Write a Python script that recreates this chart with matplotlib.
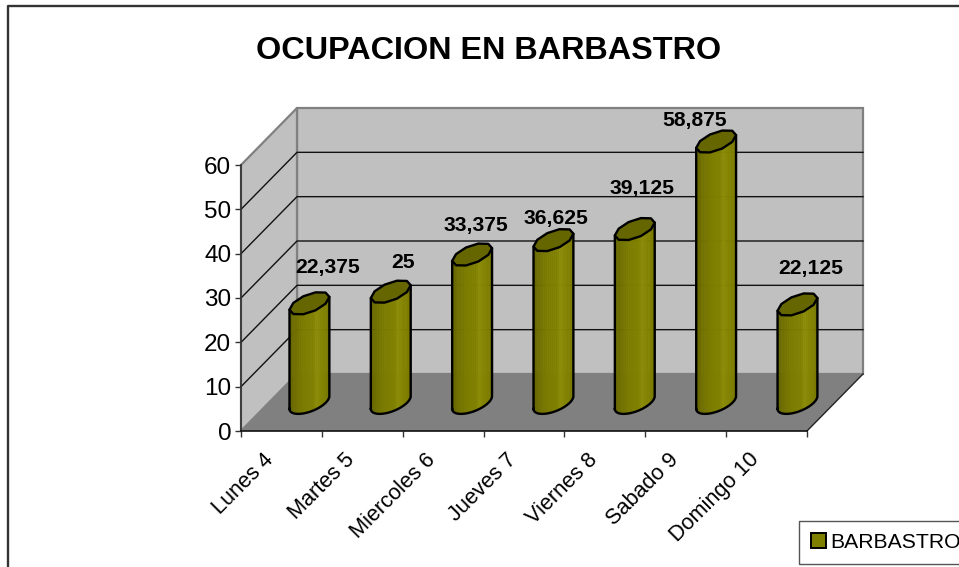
import numpy as np
import matplotlib
matplotlib.use("Agg")
import matplotlib.pyplot as plt
from matplotlib.patches import Patch
from matplotlib.transforms import ScaledTranslation

categories = ["Lunes 4", "Martes 5", "Miercoles 6", "Jueves 7", "Viernes 8", "Sabado 9", "Domingo 10"]
values = [22.375, 25, 33.375, 36.625, 39.125, 58.875, 22.125]
value_labels = ["22,375", "25", "33,375", "36,625", "39,125", "58,875", "22,125"]
y_ticks = [0, 10, 20, 30, 40, 50, 60]
title = "OCUPACION EN BARBASTRO"
series_name = "BARBASTRO"

W, H = 959, 567
plt.rcParams["font.family"] = ["Liberation Sans", "DejaVu Sans"]

fig = plt.figure(figsize=(W / 100, H / 100), dpi=100)
# front plane of the 3d box, in pixels
left, right, top, bottom = 241, 807, 165, 431
ax = fig.add_axes([left / W, 1 - bottom / H, (right - left) / W, (bottom - top) / H])
ax.set_xlim(0, 7)
ax.set_ylim(0, 60)
ax.patch.set_visible(False)

# depth of the box, as data units
cat_px = (right - left) / 7
DX = 56 / cat_px
DY = 57 / ((bottom - top) / 60)


def proj(cat, val, d):
    return np.asarray(cat) + np.asarray(d) * DX, np.asarray(val) + np.asarray(d) * DY


# walls and floor
wx, wy = proj([0, 7, 7, 0], [0, 0, 60, 60], 1)
ax.fill(wx, wy, fc="#c0c0c0", ec="#808080", lw=1.6, clip_on=False, zorder=1)
sx, sy = proj([0, 0, 0, 0], [0, 0, 60, 60], [0, 1, 1, 0])
ax.fill(sx, sy, fc="#c0c0c0", ec="#808080", lw=1.6, clip_on=False, zorder=1)
fx, fy = proj([0, 7, 7, 0], [0, 0, 0, 0], [0, 0, 1, 1])
ax.fill(fx, fy, fc="#808080", ec="none", clip_on=False, zorder=2)
ex, ey = proj([7, 7], [0, 0], [0, 1])
ax.plot(ex, ey, color="#222222", lw=1, clip_on=False, zorder=2)

# gridlines round the walls
for v in y_ticks[1:-1]:
    gx, gy = proj([0, 0, 7], [v, v, v], [0, 1, 1])
    ax.plot(gx, gy, color="#111111", lw=1, clip_on=False, zorder=1.5)

# cylinders
half_w = 16.5 / cat_px
half_d = 0.2
bar_step = 1.006
t0 = np.arctan2(half_d * DX * cat_px, half_w * cat_px)
n_side = 10
shade_pos = [0, 0.12, 0.35, 0.6, 0.68, 0.8, 0.9, 1]
shade_col = np.array([[0x62, 0x62, 0], [0x6e, 0x6e, 0], [0x7c, 0x7c, 0], [0x80, 0x80, 0],
                      [0x8c, 0x8c, 0x08], [0x84, 0x84, 0], [0x80, 0x80, 0], [0x74, 0x74, 0]]) / 255


def ring(cx, val, angles):
    cat = cx + half_w * np.cos(angles)
    d = 0.5 + half_d * np.sin(angles)
    return proj(cat, np.full_like(angles, val, dtype=float), d)


for i, val in enumerate(values):
    cx = 0.5 + i * bar_step
    corners = t0 + np.arange(n_side + 1) * 2 * np.pi / n_side
    # front half goes from the left extreme to the right extreme
    front = t0 + np.pi + np.arange(n_side // 2 + 1) * 2 * np.pi / n_side
    fine = np.interp(np.linspace(0, n_side // 2, 31), np.arange(n_side // 2 + 1), front)
    tx, ty = ring(cx, val, fine)
    bx, by = ring(cx, 0, fine)
    frac = (tx - tx[0]) / (tx[-1] - tx[0])
    for j in range(len(fine) - 1):
        col = [np.interp((frac[j] + frac[j + 1]) / 2, shade_pos, shade_col[:, c]) for c in range(3)]
        ax.fill([tx[j], tx[j + 1], bx[j + 1], bx[j]], [ty[j], ty[j + 1], by[j + 1], by[j]],
                fc=col, ec=col, lw=0.4, clip_on=False, zorder=3)
    ox = np.r_[bx, tx[-1], tx[0], bx[0]]
    oy = np.r_[by, ty[-1], ty[0], by[0]]
    ax.plot(ox, oy, color="black", lw=1.7, solid_joinstyle="round", clip_on=False, zorder=4)
    cap_x, cap_y = ring(cx, val, corners)
    ax.fill(cap_x, cap_y, fc="#666600", ec="black", lw=1.7, joinstyle="round", clip_on=False, zorder=5)

# value labels were moved by hand in the original, offsets in px from the cap centre
label_shift = [(18, 36), (12, 29), (4, 29), (3, 22), (7, 41), (-22, 21), (13, 36)]
for i, val in enumerate(values):
    lx, ly = proj(0.5 + i * bar_step, val, 0.5)
    ax.annotate(value_labels[i], (lx, ly), xytext=(label_shift[i][0] * 0.72, label_shift[i][1] * 0.72),
                textcoords="offset points", ha="center", va="center", fontsize=15.2,
                fontweight="bold", color="black", zorder=6, annotation_clip=False)

# axes
for side in ["top", "right"]:
    ax.spines[side].set_visible(False)
ax.spines["left"].set_color("#333333")
ax.spines["left"].set_linewidth(1.2)
ax.spines["bottom"].set_color("#111111")
ax.spines["bottom"].set_linewidth(1.2)
ax.spines["left"].set_zorder(7)
ax.spines["bottom"].set_zorder(7)
ax.set_yticks(y_ticks)
ax.tick_params(axis="y", length=4, width=1, color="#333333", labelsize=17.5, pad=3)
ax.set_xticks(range(8))
ax.set_xticklabels([])
ax.tick_params(axis="x", which="major", length=4, width=1, color="#333333")
ax.set_xticks(np.arange(7) + 0.5, minor=True)
ax.set_xticklabels(categories, minor=True, rotation=45, ha="right", va="top",
                   rotation_mode="anchor", fontsize=15.6)
ax.tick_params(axis="x", which="minor", length=0, pad=13)
shift = ScaledTranslation(-18 / 100, 0, fig.dpi_scale_trans)
for lab in ax.get_xticklabels(minor=True):
    lab.set_transform(lab.get_transform() + shift)

fig.text(488.5 / W, 1 - 51 / H, title, ha="center", va="center", fontsize=23.3, fontweight="bold")

# chart border, only top and left reach inside the picture
fig.add_artist(plt.Line2D([7.5 / W, 7.5 / W, 1], [0, 1 - 5.5 / H, 1 - 5.5 / H], color="#333333", lw=1.7))

leg = fig.legend(handles=[Patch(fc="#808000", ec="black", lw=1.4, label=series_name)],
                 loc="lower left", bbox_to_anchor=(799 / W, 1 - 563.5 / H), fontsize=15.2,
                 frameon=True, fancybox=False, edgecolor="#555555", framealpha=1,
                 handlelength=0.72, handleheight=0.72, handletextpad=0.2,
                 borderpad=0.56, borderaxespad=0)
leg.get_frame().set_linewidth(1)

fig.savefig("out.png", dpi=100)
